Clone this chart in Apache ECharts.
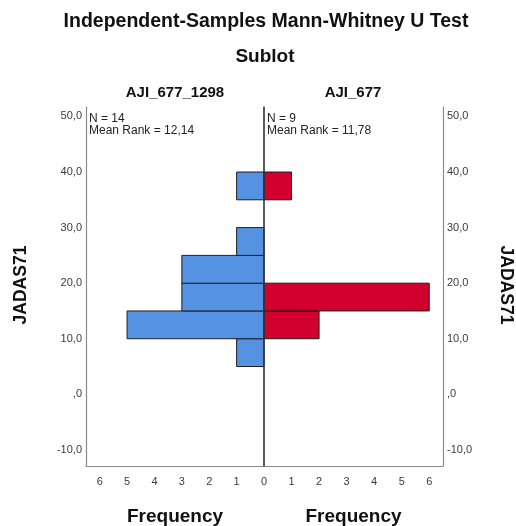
<!DOCTYPE html>
<html>
<head>
<meta charset="utf-8">
<script src="https://cdn.jsdelivr.net/npm/echarts@6/dist/echarts.min.js"></script>
<style>
  html, body { margin: 0; padding: 0; background: #fff; }
  #chart { width: 516px; height: 526px; }
</style>
</head>
<body>
<div id="chart"></div>
<script>
// Histogram bins of JADAS71 (lower edge, width 5)
const binStart = [5, 10, 15, 20, 25, 30, 35];
const binWidth = 5;
// Frequencies per bin for each group
const freqLeft = [1, 5, 3, 3, 1, 0, 1];   // AJI_677_1298
const freqRight = [0, 2, 6, 0, 0, 0, 1];  // AJI_677
// Group summary
const groupNames = ['AJI_677_1298', 'AJI_677'];
const groupN = [14, 9];
const meanRanks = ['12,14', '11,78'];
// Axis ticks
const yTicks = [-10, 0, 10, 20, 30, 40, 50];
const xTicksLeft = [0, 1, 2, 3, 4, 5, 6];
const xTicksRight = [1, 2, 3, 4, 5, 6];

const FONT = "'Liberation Sans', Arial, sans-serif";
const BLUE = '#5592e2';
const RED = '#d2002c';

function binsData(freq) {
  const out = [];
  binStart.forEach((lo, i) => {
    if (freq[i] > 0) out.push([lo, lo + binWidth, freq[i]]);
  });
  return out;
}

function renderBin(params, api) {
  const lo = api.value(0), hi = api.value(1), n = api.value(2);
  const a = api.coord([0, hi]);
  const b = api.coord([n, lo]);
  return {
    type: 'rect',
    shape: {
      x: Math.min(a[0], b[0]),
      y: Math.min(a[1], b[1]),
      width: Math.abs(b[0] - a[0]),
      height: Math.abs(b[1] - a[1])
    },
    style: api.style({ stroke: '#1e1e1e', lineWidth: 1 })
  };
}

function yLabel(v) {
  if (v === 0) return ',0';
  return v.toFixed(1).replace('.', ',');
}

const yCommon = {
  type: 'value',
  min: -12.9,
  max: 51.7,
  splitLine: { show: false },
  axisTick: { show: false }
};

const frameLine = { show: true, onZero: false, lineStyle: { color: '#8a8a8a', width: 1.2 } };
const tickText = { color: '#3a3a3a', fontSize: 11, fontFamily: FONT };
const freqName = { fontSize: 19, fontWeight: 'bold', color: '#111', fontFamily: FONT };

const chart = echarts.init(document.getElementById('chart'));
chart.setOption({
  animation: false,
  backgroundColor: '#fff',
  textStyle: { fontFamily: FONT },
  grid: [
    { left: 86, top: 107, width: 178, height: 359, containLabel: false, outerBoundsMode: 'none' },
    { left: 264, top: 107, width: 179, height: 359, containLabel: false, outerBoundsMode: 'none' }
  ],
  xAxis: [
    {
      gridIndex: 0, type: 'value', inverse: true, min: 0, max: 6.5,
      splitLine: { show: false }, axisTick: { show: false },
      axisLine: frameLine,
      axisLabel: Object.assign({ customValues: xTicksLeft, margin: 10 }, tickText),
      name: 'Frequency', nameLocation: 'middle', nameGap: 41,
      nameTextStyle: freqName
    },
    {
      gridIndex: 1, type: 'value', min: 0, max: 6.5,
      splitLine: { show: false }, axisTick: { show: false },
      axisLine: frameLine,
      axisLabel: Object.assign({ customValues: xTicksRight, margin: 10 }, tickText),
      name: 'Frequency', nameLocation: 'middle', nameGap: 41,
      nameTextStyle: freqName
    }
  ],
  yAxis: [
    Object.assign({}, yCommon, {
      gridIndex: 0, position: 'left',
      axisLine: frameLine,
      axisLabel: Object.assign({ customValues: yTicks, formatter: yLabel, margin: 4 }, tickText)
    }),
    Object.assign({}, yCommon, {
      gridIndex: 1, position: 'right',
      axisLine: frameLine,
      axisLabel: Object.assign({ customValues: yTicks, formatter: yLabel, margin: 4 }, tickText)
    }),
    // divider between the two groups at frequency 0
    Object.assign({}, yCommon, {
      gridIndex: 1, position: 'left', z: 10,
      axisLine: { show: true, onZero: false, lineStyle: { color: '#333', width: 1.6 } },
      axisLabel: { show: false }
    })
  ],
  series: [
    {
      type: 'custom', xAxisIndex: 0, yAxisIndex: 0,
      itemStyle: { color: BLUE },
      renderItem: renderBin,
      data: binsData(freqLeft)
    },
    {
      type: 'custom', xAxisIndex: 1, yAxisIndex: 1,
      itemStyle: { color: RED },
      renderItem: renderBin,
      data: binsData(freqRight)
    }
  ],
  graphic: [
    { type: 'text', x: 266, y: 22, style: { text: 'Independent-Samples Mann-Whitney U Test', font: 'bold 19.5px ' + FONT, fill: '#111', textAlign: 'center', textVerticalAlign: 'middle' } },
    { type: 'text', x: 265, y: 57, style: { text: 'Sublot', font: 'bold 19px ' + FONT, fill: '#111', textAlign: 'center', textVerticalAlign: 'middle' } },
    { type: 'text', x: 175, y: 93, style: { text: groupNames[0], font: 'bold 15px ' + FONT, fill: '#111', textAlign: 'center', textVerticalAlign: 'middle' } },
    { type: 'text', x: 353, y: 93, style: { text: groupNames[1], font: 'bold 15px ' + FONT, fill: '#111', textAlign: 'center', textVerticalAlign: 'middle' } },
    { type: 'text', x: 89, y: 119, style: { text: 'N = ' + groupN[0], font: '12px ' + FONT, fill: '#222', textAlign: 'left', textVerticalAlign: 'middle' } },
    { type: 'text', x: 89, y: 131, style: { text: 'Mean Rank = ' + meanRanks[0], font: '12px ' + FONT, fill: '#222', textAlign: 'left', textVerticalAlign: 'middle' } },
    { type: 'text', x: 267, y: 119, style: { text: 'N = ' + groupN[1], font: '12px ' + FONT, fill: '#222', textAlign: 'left', textVerticalAlign: 'middle' } },
    { type: 'text', x: 267, y: 131, style: { text: 'Mean Rank = ' + meanRanks[1], font: '12px ' + FONT, fill: '#222', textAlign: 'left', textVerticalAlign: 'middle' } },
    { type: 'text', x: 21, y: 285, rotation: Math.PI / 2, style: { text: 'JADAS71', font: 'bold 17.5px ' + FONT, fill: '#111', textAlign: 'center', textVerticalAlign: 'middle' } },
    { type: 'text', x: 506, y: 285, rotation: -Math.PI / 2, style: { text: 'JADAS71', font: 'bold 17.5px ' + FONT, fill: '#111', textAlign: 'center', textVerticalAlign: 'middle' } }
  ]
});
</script>
</body>
</html>
